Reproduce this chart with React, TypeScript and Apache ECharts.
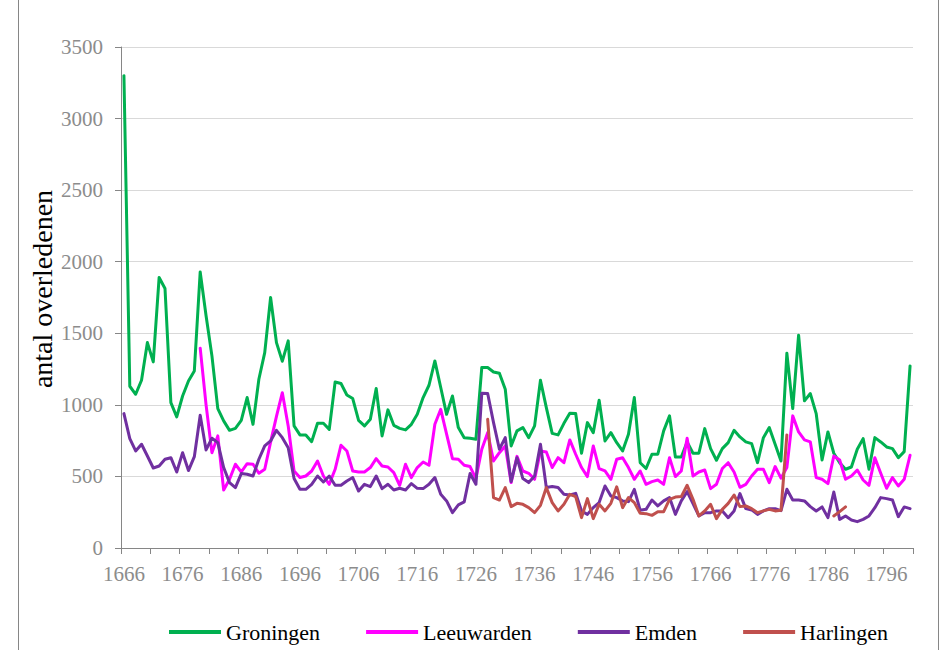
import React, { useEffect, useRef } from "react";
import * as echarts from "echarts";

const firstYear = 1666;
const lastYear = 1800;
const years: string[] = [];
for (let y = firstYear; y <= lastYear; y++) years.push(String(y));

const seriesNames = ["Groningen", "Leeuwarden", "Emden", "Harlingen"];
const seriesColors = ["#00B050", "#FF00FF", "#7030A0", "#C0504D"];

const groningen = [
  3300, 1130, 1074, 1172, 1435, 1300, 1890, 1813, 1016, 916,
  1062, 1167, 1237, 1929, 1622, 1342, 974, 888, 822, 836,
  892, 1051, 864, 1179, 1365, 1750, 1435, 1305, 1447, 853,
  790, 790, 743, 871, 871, 829, 1160, 1149, 1069, 1044,
  892, 853, 899, 1114, 783, 965, 857, 836, 825, 864,
  934, 1051, 1137, 1307, 1121, 934, 1062, 841, 771, 767,
  760, 1261, 1261, 1230, 1221, 1109, 713, 818, 841, 771,
  853, 1172, 981, 801, 790, 871, 941, 939, 662, 876,
  806, 1032, 748, 806, 736, 678, 795, 1051, 596, 555,
  655, 655, 818, 923, 636, 636, 741, 662, 662, 834,
  694, 613, 694, 736, 822, 776, 741, 729, 596, 771,
  841, 725, 608, 1361, 974, 1487, 1028, 1079, 939, 615,
  811, 662, 596, 550, 566, 690, 764, 550, 771, 741,
  706, 694, 631, 673, 1272,
];

const leeuwarden = [
  null, null, null, null, null, null, null, null, null, null,
  null, null, null, 1396, 1000, 666, 783, 405, 480, 585,
  531, 589, 585, 522, 550, 740, 920, 1085, 853, 538,
  492, 503, 538, 608, 503, 445, 550, 718, 678, 538,
  531, 531, 562, 624, 573, 566, 527, 438, 585, 492,
  562, 601, 578, 864, 969, 795, 624, 620, 578, 569,
  485, 690, 806, 608, 666, 713, 457, 640, 538, 522,
  480, 678, 671, 562, 631, 596, 755, 655, 562, 499,
  713, 555, 538, 480, 620, 631, 562, 480, 538, 445,
  464, 475, 445, 631, 499, 538, 767, 503, 531, 545,
  415, 445, 555, 596, 531, 424, 445, 503, 550, 550,
  457, 569, 488, 562, 923, 811, 755, 741, 492, 480,
  450, 643, 615, 480, 503, 545, 475, 438, 631, 522,
  417, 492, 433, 480, 648,
];

const emden = [
  939, 764, 678, 725, 643, 559, 573, 620, 631, 531,
  666, 541, 638, 927, 685, 767, 736, 562, 457, 422,
  520, 515, 503, 620, 713, 748, 822, 771, 701, 485,
  410, 410, 445, 503, 461, 503, 438, 438, 468, 492,
  398, 445, 429, 503, 415, 445, 405, 417, 405, 450,
  417, 415, 445, 492, 375, 329, 247, 301, 322, 520,
  445, 1081, 1079, 876, 690, 771, 464, 631, 485, 457,
  503, 725, 422, 429, 422, 375, 370, 382, 259, 235,
  282, 317, 433, 363, 352, 329, 324, 410, 263, 270,
  335, 294, 329, 352, 235, 329, 394, 310, 224, 247,
  247, 259, 259, 212, 259, 380, 275, 266, 235, 259,
  275, 275, 261, 410, 335, 335, 329, 289, 259, 287,
  212, 391, 200, 224, 196, 184, 200, 224, 282, 352,
  345, 335, 219, 287, 275,
];

const harlingen = [
  null, null, null, null, null, null, null, null, null, null,
  null, null, null, null, null, null, null, null, null, null,
  null, null, null, null, null, null, null, null, null, null,
  null, null, null, null, null, null, null, null, null, null,
  null, null, null, null, null, null, null, null, null, null,
  null, null, null, null, null, null, null, null, null, null,
  null, null, 899, 352, 335, 422, 289, 312, 305, 282,
  247, 298, 422, 317, 259, 305, 375, 359, 212, 345,
  205, 305, 259, 312, 427, 282, 352, 317, 242, 240,
  228, 254, 254, 340, 356, 359, 438, 340, 224, 259,
  305, 205, 270, 312, 370, 289, 294, 275, 247, 259,
  270, 259, 263, 790, null, null, null, null, null, null,
  null, 224, 254, 287, null, null, null, null, null, null,
  null, null, null, null, null,
];

const seriesData = [groningen, leeuwarden, emden, harlingen];

const yMin = 0;
const yMax = 3500;
const yStep = 500;
const yTitle = "antal overledenen";

const FONT = "'Liberation Serif', 'Times New Roman', serif";

export default function App() {
  const ref = useRef<HTMLDivElement>(null);

  useEffect(() => {
    if (!ref.current) return;
    const chart = echarts.init(ref.current, null, { renderer: "svg" });
    chart.setOption({
      animation: false,
      backgroundColor: "#ffffff",
      textStyle: { fontFamily: FONT },
      grid: { left: 121, right: 31, top: 47, bottom: 102, containLabel: false },
      xAxis: {
        type: "category",
        data: years,
        boundaryGap: true,
        axisLine: { show: true, lineStyle: { color: "#868686", width: 1 } },
        axisTick: { show: true, interval: 4, length: 6, lineStyle: { color: "#868686" } },
        axisLabel: { interval: 9, color: "#8C8C8C", fontSize: 21, margin: 15, fontFamily: FONT },
        splitLine: { show: false },
      },
      yAxis: {
        type: "value",
        min: yMin,
        max: yMax,
        interval: yStep,
        axisLine: { show: true, lineStyle: { color: "#868686", width: 1 } },
        axisTick: { show: true, length: 6, lineStyle: { color: "#868686" } },
        axisLabel: {
          color: "#8C8C8C",
          fontSize: 21,
          margin: 18,
          fontFamily: FONT,
          formatter: (v: number) => String(v),
        },
        splitLine: { show: true, lineStyle: { color: "#D9D9D9", width: 1 } },
      },
      legend: {
        left: 164,
        top: 616,
        icon: "rect",
        itemWidth: 52,
        itemHeight: 4,
        itemGap: 46,
        data: seriesNames,
        textStyle: { fontSize: 22, color: "#000000", fontFamily: FONT },
      },
      graphic: [
        {
          type: "text",
          x: 42,
          y: 289,
          rotation: Math.PI / 2,
          style: {
            text: yTitle,
            fontSize: 28,
            fontFamily: FONT,
            fill: "#000000",
            textAlign: "center",
            textVerticalAlign: "middle",
          },
        },
        {
          type: "line",
          shape: { x1: 18.5, y1: 0, x2: 18.5, y2: 650 },
          style: { stroke: "#868686", lineWidth: 1 },
        },
        {
          type: "line",
          shape: { x1: 938.5, y1: 0, x2: 938.5, y2: 650 },
          style: { stroke: "#868686", lineWidth: 1 },
        },
      ],
      series: seriesNames.map((name, i) => ({
        type: "line",
        name,
        data: seriesData[i],
        symbol: "none",
        connectNulls: false,
        lineStyle: { width: 3, color: seriesColors[i], cap: "round", join: "round" },
        itemStyle: { color: seriesColors[i] },
      })),
    });
    return () => chart.dispose();
  }, []);

  return (
    <div
      ref={ref}
      style={{ position: "absolute", left: 0, top: 0, width: 944, height: 650 }}
    />
  );
}
